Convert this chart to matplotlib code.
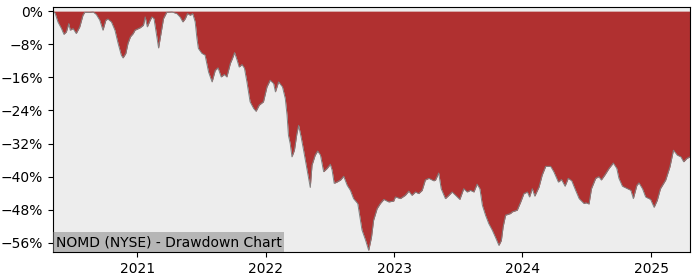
import matplotlib
matplotlib.use("Agg")
import matplotlib.pyplot as plt
import matplotlib.dates as mdates
from matplotlib.ticker import PercentFormatter
import numpy as np
import pandas as pd

# drawdown (%)
dates = [
    "2020-05-07", "2020-05-13", "2020-05-21", "2020-05-31", "2020-06-07", "2020-06-14",
    "2020-06-21", "2020-06-25", "2020-07-03", "2020-07-12", "2020-07-22", "2020-07-31",
    "2020-08-05", "2020-08-19", "2020-08-29", "2020-09-07", "2020-09-17", "2020-09-26",
    "2020-10-04", "2020-10-10", "2020-10-20", "2020-10-30", "2020-11-08", "2020-11-17",
    "2020-11-22", "2020-11-30", "2020-12-06", "2020-12-13", "2020-12-21", "2020-12-26",
    "2021-01-10", "2021-01-19", "2021-01-24", "2021-01-30", "2021-02-07", "2021-02-12",
    "2021-02-18", "2021-02-24", "2021-03-03", "2021-03-09", "2021-03-17", "2021-03-26",
    "2021-04-10", "2021-04-24", "2021-05-03", "2021-05-11", "2021-05-18", "2021-05-24",
    "2021-06-01", "2021-06-08", "2021-06-15", "2021-06-20", "2021-06-24", "2021-07-04",
    "2021-07-13", "2021-07-23", "2021-08-02", "2021-08-11", "2021-08-19", "2021-08-28",
    "2021-09-06", "2021-09-13", "2021-09-23", "2021-09-29", "2021-10-05", "2021-10-12",
    "2021-10-18", "2021-10-26", "2021-11-02", "2021-11-09", "2021-11-18", "2021-11-28",
    "2021-12-05", "2021-12-14", "2021-12-26", "2022-01-05", "2022-01-14", "2022-01-24",
    "2022-01-29", "2022-02-07", "2022-02-18", "2022-02-26", "2022-03-03", "2022-03-07",
    "2022-03-12", "2022-03-17", "2022-03-24", "2022-03-31", "2022-04-05", "2022-04-12",
    "2022-04-19", "2022-04-29", "2022-05-08", "2022-05-13", "2022-05-22", "2022-05-29",
    "2022-06-06", "2022-06-15", "2022-06-25", "2022-07-04", "2022-07-09", "2022-07-15",
    "2022-07-23", "2022-08-02", "2022-08-11", "2022-08-21", "2022-08-30", "2022-09-08",
    "2022-09-20", "2022-09-23", "2022-10-02", "2022-10-12", "2022-10-21", "2022-10-29",
    "2022-11-04", "2022-11-14", "2022-11-23", "2022-12-03", "2022-12-17", "2022-12-31",
    "2023-01-05", "2023-01-19", "2023-02-02", "2023-02-12", "2023-02-21", "2023-03-03",
    "2023-03-12", "2023-03-22", "2023-03-31", "2023-04-10", "2023-04-24", "2023-04-29",
    "2023-05-08", "2023-05-15", "2023-05-27", "2023-06-06", "2023-06-15", "2023-06-25",
    "2023-07-07", "2023-07-18", "2023-07-28", "2023-08-06", "2023-08-16", "2023-08-25",
    "2023-09-02", "2023-09-09", "2023-09-18", "2023-09-27", "2023-10-07", "2023-10-16",
    "2023-10-26", "2023-11-02", "2023-11-07", "2023-11-14", "2023-11-28", "2023-12-03",
    "2023-12-17", "2023-12-27", "2024-01-05", "2024-01-15", "2024-01-21", "2024-01-29",
    "2024-02-05", "2024-02-17", "2024-02-26", "2024-03-07", "2024-03-21", "2024-03-30",
    "2024-04-12", "2024-04-21", "2024-05-01", "2024-05-10", "2024-05-20", "2024-05-31",
    "2024-06-10", "2024-06-24", "2024-06-29", "2024-07-08", "2024-07-15", "2024-07-27",
    "2024-08-05", "2024-08-12", "2024-08-22", "2024-09-03", "2024-09-15", "2024-09-25",
    "2024-10-01", "2024-10-11", "2024-10-25", "2024-11-04", "2024-11-11", "2024-11-21",
    "2024-11-27", "2024-12-07", "2024-12-16", "2024-12-30", "2025-01-09", "2025-01-18",
    "2025-01-27", "2025-02-11", "2025-02-23", "2025-03-05", "2025-03-16", "2025-03-26",
    "2025-04-03", "2025-04-12", "2025-04-21",
]
drawdown = [
    0.0, -0.5, -2.6, -4.2, -5.6, -5.0,
    -3.0, -4.6, -4.2, -5.4, -3.8, -1.0,
    -0.3, -0.3, -0.2, -0.8, -2.2, -4.6,
    -2.2, -1.9, -2.6, -4.6, -7.8, -10.6,
    -11.3, -10.2, -7.8, -6.2, -5.4, -4.6,
    -4.0, -3.4, -1.4, -3.8, -2.2, -1.4,
    -1.8, -5.0, -8.9, -5.8, -1.8, -0.3,
    -0.2, -0.6, -1.4, -2.6, -1.8, -0.6,
    -1.0, -0.6, -2.6, -6.6, -9.0, -10.2,
    -10.6, -14.7, -17.1, -14.3, -13.7, -15.9,
    -15.3, -15.9, -12.6, -11.4, -10.0, -11.8,
    -13.5, -12.9, -13.8, -17.1, -21.9, -23.5,
    -24.2, -22.7, -21.9, -18.3, -16.7, -17.5,
    -19.5, -17.1, -18.3, -21.1, -25.1, -30.0,
    -32.0, -35.2, -33.6, -29.6, -27.6, -30.4,
    -33.6, -38.4, -42.6, -37.2, -34.8, -33.8,
    -34.8, -38.8, -38.0, -37.0, -38.4, -41.6,
    -41.3, -40.8, -39.9, -42.1, -43.3, -45.3,
    -46.5, -48.1, -52.9, -55.3, -57.8, -54.6,
    -50.5, -47.7, -46.5, -45.5, -46.1, -45.9,
    -44.9, -45.3, -44.5, -43.5, -44.5, -43.7,
    -44.1, -43.3, -40.8, -40.4, -41.0, -40.8,
    -39.1, -42.9, -45.3, -44.5, -43.7, -44.5,
    -45.5, -42.9, -43.7, -43.3, -43.7, -41.8,
    -42.9, -46.9, -49.3, -51.3, -52.9, -54.6,
    -56.6, -55.4, -52.1, -49.3, -48.9, -48.5,
    -48.1, -46.1, -44.1, -43.7, -44.9, -42.9,
    -44.7, -42.5, -39.6, -37.5, -37.5, -38.8,
    -41.3, -40.7, -42.3, -40.4, -41.0, -43.3,
    -45.3, -46.5, -46.3, -46.6, -42.9, -40.4,
    -40.0, -40.8, -39.6, -38.0, -36.7, -38.0,
    -40.4, -42.3, -42.9, -43.3, -45.3, -42.1,
    -41.5, -42.9, -44.9, -45.5, -47.4, -45.7,
    -42.9, -40.8, -37.6, -33.6, -34.8, -35.2,
    -36.4, -35.6, -35.2,
]
ytick_vals = [0, -8, -16, -24, -32, -40, -48, -56]
label = "NOMD (NYSE) - Drawdown Chart"

x = pd.to_datetime(dates)
dd = np.array(drawdown)

fig = plt.figure(figsize=(7, 2.8), dpi=100)
ax = fig.add_axes([0.0757, 0.1, 0.91, 0.875])
ax.set_facecolor("#ededed")

ax.fill_between(x, dd, 0, color="#b03030", lw=0)
ax.plot(x, dd, color="#808080", lw=0.7)

ax.set_xlim(x[0], x[-1])
ax.set_ylim(-58.2, 1.0)
ax.set_yticks(ytick_vals)
ax.yaxis.set_major_formatter(PercentFormatter(decimals=0))
ax.xaxis.set_major_locator(mdates.YearLocator())
ax.xaxis.set_major_formatter(mdates.DateFormatter("%Y"))

ax.text(0.004, 0.012, label, transform=ax.transAxes, fontsize=10,
        ha="left", va="bottom",
        bbox=dict(facecolor="grey", alpha=0.5, edgecolor="none", pad=2))

fig.savefig("out.png", dpi=100)
